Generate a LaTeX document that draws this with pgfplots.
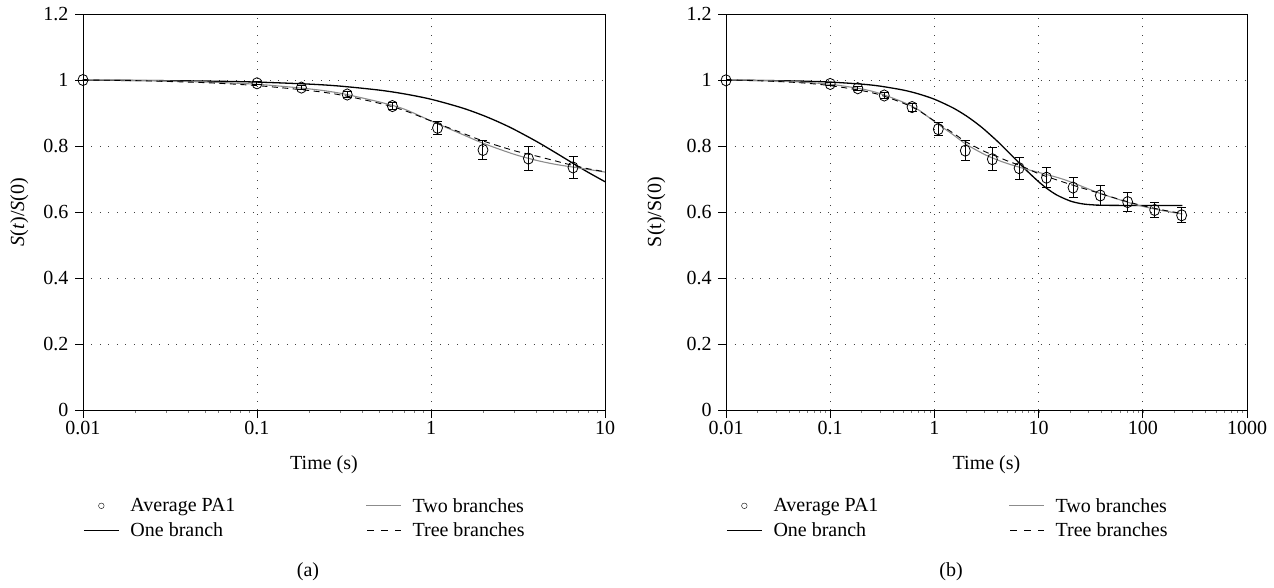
\documentclass[border=0pt]{standalone}
\usepackage{fontspec}
\setmainfont{Liberation Serif}
\usepackage{pgfplots}
\pgfplotsset{compat=1.18}

\newcommand{\fs}{\fontsize{20}{24}\selectfont}

\begin{document}
\begin{tikzpicture}
\path[use as bounding box] (0pt,0pt) rectangle (1274pt,-588pt);

% ---------- panel (a)
\begin{axis}[
  scale only axis, width=522pt, height=396pt,
  at={(83pt,-410pt)}, anchor=south west,
  xmode=log, xmin=0.01, xmax=10, ymin=0, ymax=1.2,
  xtick={0.01,0.1,1,10}, xticklabels={0.01,0.1,1,10},
  ytick={0,0.2,0.4,0.6,0.8,1,1.2},
  yticklabels={0,0.2,0.4,0.6,0.8,1,1.2},
  minor xtick={},
  tick align=outside, major tick length=8pt,
  xtick pos=bottom, ytick pos=left,
  xmajorgrids=true, ymajorgrids=true,
  major grid style={black!75, line width=0.7pt, dash pattern=on 1pt off 7.5pt},
  axis line style={line width=0.9pt},
  major tick style={black, line width=0.9pt},
  tick label style={font=\fs},
  yticklabel style={xshift=-3pt},
  label style={font=\fs},
  xlabel={Time (s)},
  xlabel style={at={(axis description cs:0.4617,-0.1389)}, anchor=center},
  ylabel={\textit{S}(\textit{t})/\textit{S}(0)},
  ylabel style={at={(axis description cs:-0.122,0.5)}, anchor=center},
  legend columns=2, legend cell align=left,
  legend style={at={(0.0,-0.217)}, anchor=north west, draw=none, fill=none,
    inner sep=0pt, font=\fs, row sep=5.5pt,
    /tikz/every odd column/.append style={column sep=9pt},
    /tikz/every even column/.append style={column sep=128pt}},
  legend image code/.code={\draw[mark repeat=2, mark phase=2, #1]
    plot coordinates {(0pt,0pt) (17.5pt,0pt) (35pt,0pt)};},
]
\addlegendimage{only marks, mark=o, mark size=2.8pt, black}
\addlegendentry{Average PA1}
\addlegendimage{black!45, line width=1.1pt}
\addlegendentry{Two branches}
\addlegendimage{black, line width=1.3pt}
\addlegendentry{One branch}
\addlegendimage{black, line width=0.9pt, dash pattern=on 7pt off 7pt, dash phase=-1pt}
\addlegendentry{Tree branches}

% one branch
\addplot[black, line width=1.3pt, smooth, forget plot] coordinates {
 (0.01,0.9994)(0.02,0.9987)(0.05,0.9968)(0.1,0.9937)(0.2,0.9875)(0.3,0.9815)
 (0.5,0.9696)(0.7,0.9581)(1,0.9417)(1.5,0.9159)(2,0.8923)(2.5,0.8705)
 (3,0.8505)(4,0.8151)(5,0.7851)(6,0.7598)(7,0.7383)(8,0.7202)(10,0.6918)};
% two branches
\addplot[black!45, line width=1.1pt, smooth, forget plot] coordinates {
 (0.01,1.000)(0.02,0.999)(0.05,0.994)(0.1,0.987)(0.2,0.973)(0.3,0.960)
 (0.5,0.934)(0.7,0.912)(1,0.876)(1.5,0.836)(2,0.808)(3,0.775)(4,0.757)
 (5,0.746)(6,0.739)(7,0.734)(8,0.729)(10,0.721)};
% tree branches
\addplot[black, line width=0.9pt, dash pattern=on 6pt off 4.5pt, smooth, forget plot] coordinates {
 (0.01,1.000)(0.02,0.998)(0.05,0.992)(0.1,0.983)(0.2,0.968)(0.3,0.955)
 (0.5,0.930)(0.7,0.908)(1,0.876)(1.5,0.840)(2,0.815)(3,0.786)(4,0.770)
 (5,0.757)(6,0.746)(7,0.738)(8,0.731)(10,0.722)};
% average PA1
\addplot[forget plot, only marks, mark=o, mark size=5pt, black,
  mark options={line width=0.8pt, yscale=1.12},
  error bars/.cd, y dir=both, y explicit,
  error bar style={line width=1pt, black},
  error mark options={rotate=90, mark size=4.5pt, line width=1pt}] coordinates {
 (0.01,1.000) +- (0,0.002)
 (0.1,0.990) +- (0,0.005)
 (0.18,0.977) +- (0,0.006)
 (0.33,0.956) +- (0,0.008)
 (0.60,0.921) +- (0,0.010)
 (1.09,0.855) +- (0,0.020)
 (1.99,0.788) +- (0,0.030)
 (3.63,0.762) +- (0,0.035)
 (6.55,0.735) +- (0,0.032)};
\end{axis}

% ---------- panel (b)
\begin{axis}[
  scale only axis, width=521pt, height=396pt,
  at={(726pt,-410pt)}, anchor=south west,
  xmode=log, xmin=0.01, xmax=1000, ymin=0, ymax=1.2,
  xtick={0.01,0.1,1,10,100,1000}, xticklabels={0.01,0.1,1,10,100,1000},
  ytick={0,0.2,0.4,0.6,0.8,1,1.2},
  yticklabels={0,0.2,0.4,0.6,0.8,1,1.2},
  minor xtick={},
  tick align=outside, major tick length=8pt,
  xtick pos=bottom, ytick pos=left,
  xmajorgrids=true, ymajorgrids=true,
  major grid style={black!75, line width=0.7pt, dash pattern=on 1pt off 7.5pt},
  axis line style={line width=0.9pt},
  major tick style={black, line width=0.9pt},
  tick label style={font=\fs},
  yticklabel style={xshift=-3pt},
  label style={font=\fs},
  xlabel={Time (s)},
  xlabel style={at={(axis description cs:0.5,-0.1389)}, anchor=center},
  ylabel={S(t)/S(0)},
  ylabel style={at={(axis description cs:-0.134,0.5)}, anchor=center},
  legend columns=2, legend cell align=left,
  legend style={at={(0.0,-0.217)}, anchor=north west, draw=none, fill=none,
    inner sep=0pt, font=\fs, row sep=5.5pt,
    /tikz/every odd column/.append style={column sep=9pt},
    /tikz/every even column/.append style={column sep=128pt}},
  legend image code/.code={\draw[mark repeat=2, mark phase=2, #1]
    plot coordinates {(0pt,0pt) (17.5pt,0pt) (35pt,0pt)};},
]
\addlegendimage{only marks, mark=o, mark size=2.8pt, black}
\addlegendentry{Average PA1}
\addlegendimage{black!45, line width=1.1pt}
\addlegendentry{Two branches}
\addlegendimage{black, line width=1.3pt}
\addlegendentry{One branch}
\addlegendimage{black, line width=0.9pt, dash pattern=on 7pt off 7pt, dash phase=-1pt}
\addlegendentry{Tree branches}

% one branch
\addplot[black, line width=1.3pt, smooth, forget plot] coordinates {
 (0.01,0.9994)(0.02,0.9987)(0.05,0.9968)(0.1,0.9937)(0.2,0.9875)(0.3,0.9815)
 (0.5,0.9696)(0.7,0.9581)(1,0.9417)(1.5,0.9159)(2,0.8923)(2.5,0.8705)
 (3,0.8505)(4,0.8151)(5,0.7851)(6,0.7598)(7,0.7383)(8,0.7202)(10,0.6918)
 (12,0.6714)(15,0.6512)(20,0.6336)(25,0.6259)(30,0.6226)(40,0.6205)
 (60,0.6200)(100,0.6200)(150,0.6200)(240,0.6200)};
% two branches
\addplot[black!45, line width=1.1pt, smooth, forget plot] coordinates {
 (0.01,1.000)(0.02,0.999)(0.05,0.994)(0.1,0.987)(0.2,0.973)(0.3,0.959)
 (0.5,0.933)(0.7,0.910)(1,0.874)(1.5,0.835)(2,0.806)(3,0.775)(4,0.758)
 (5,0.747)(7,0.733)(10,0.720)(15,0.705)(20,0.692)(30,0.670)(40,0.655)
 (60,0.637)(80,0.625)(100,0.617)(150,0.605)(240,0.594)};
% tree branches
\addplot[black, line width=0.9pt, dash pattern=on 6pt off 4.5pt, smooth, forget plot] coordinates {
 (0.01,1.000)(0.02,0.998)(0.05,0.992)(0.1,0.983)(0.2,0.968)(0.3,0.955)
 (0.5,0.930)(0.7,0.908)(1,0.876)(1.5,0.840)(2,0.813)(3,0.784)(4,0.768)
 (5,0.755)(7,0.738)(10,0.716)(15,0.697)(20,0.684)(30,0.667)(40,0.655)
 (60,0.638)(80,0.627)(100,0.619)(150,0.607)(240,0.595)};
% average PA1
\addplot[forget plot, only marks, mark=o, mark size=5pt, black,
  mark options={line width=0.8pt, yscale=1.12},
  error bars/.cd, y dir=both, y explicit,
  error bar style={line width=1pt, black},
  error mark options={rotate=90, mark size=4.5pt, line width=1pt}] coordinates {
 (0.01,0.999) +- (0,0.002)
 (0.1,0.988) +- (0,0.005)
 (0.184,0.975) +- (0,0.006)
 (0.33,0.953) +- (0,0.008)
 (0.61,0.918) +- (0,0.012)
 (1.09,0.851) +- (0,0.020)
 (1.98,0.786) +- (0,0.030)
 (3.6,0.760) +- (0,0.035)
 (6.5,0.733) +- (0,0.033)
 (11.9,0.704) +- (0,0.031)
 (21.4,0.674) +- (0,0.030)
 (39.1,0.650) +- (0,0.030)
 (71.6,0.630) +- (0,0.029)
 (130,0.606) +- (0,0.024)
 (236,0.590) +- (0,0.023)};
\end{axis}

\node[font=\fs] at (308pt,-572pt) {(a)};
\node[font=\fs] at (951pt,-572pt) {(b)};
\end{tikzpicture}
\end{document}
